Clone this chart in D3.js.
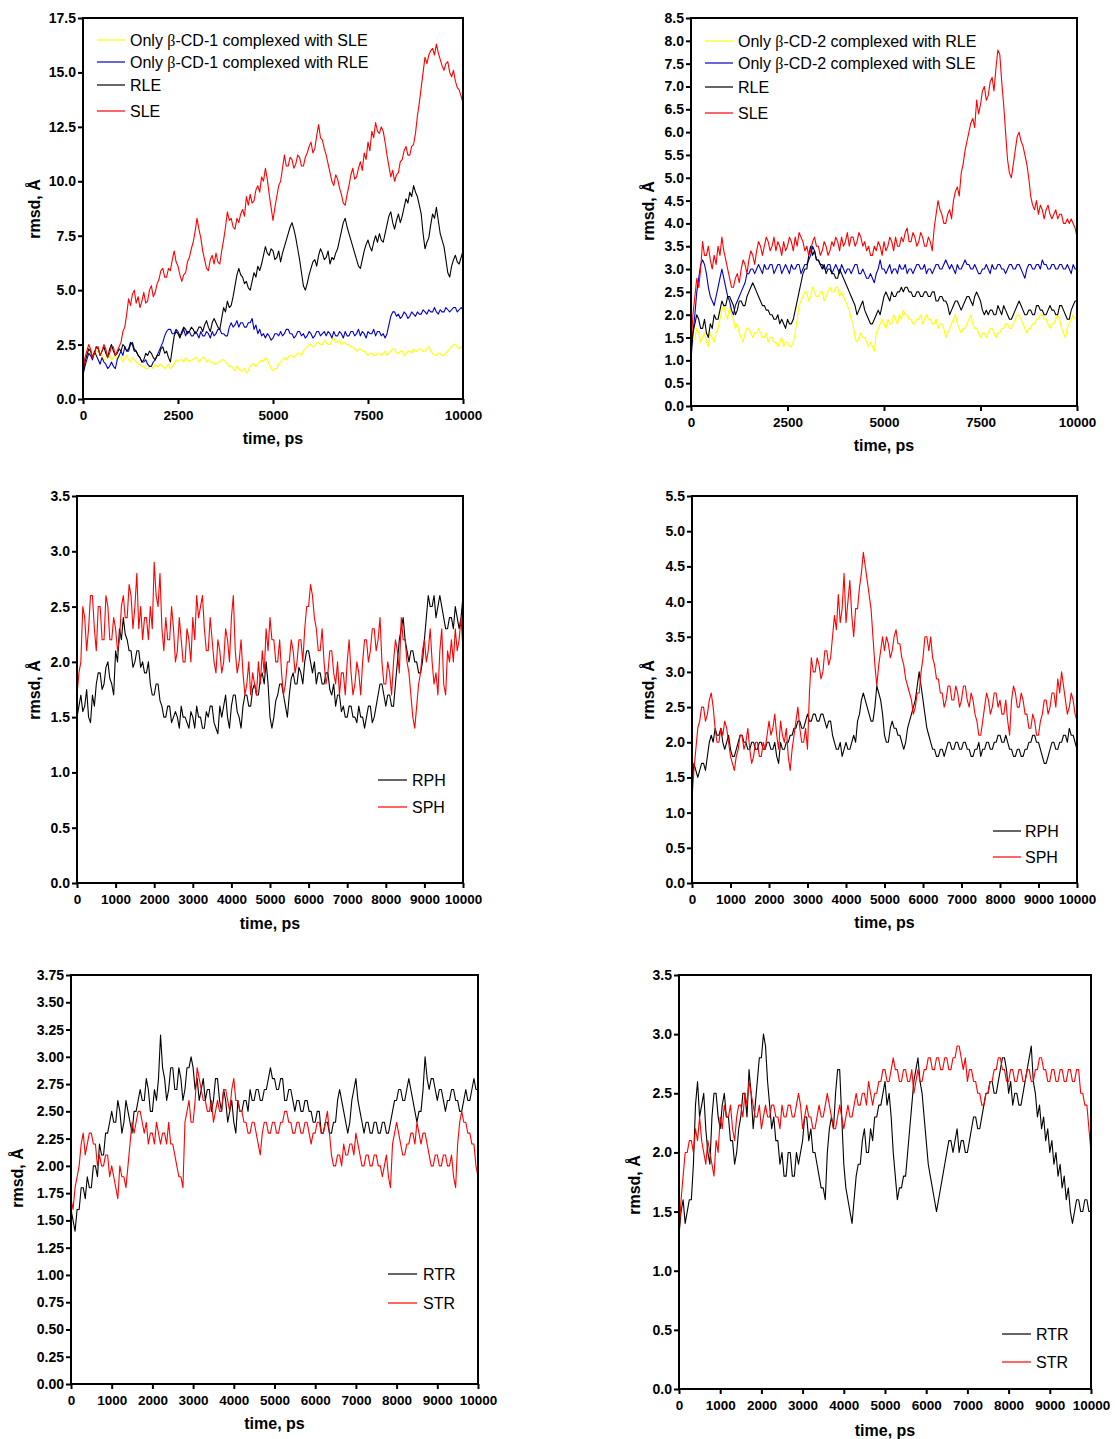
<!DOCTYPE html>
<html><head><meta charset="utf-8">
<script src="https://cdn.jsdelivr.net/npm/d3@7/dist/d3.min.js"></script>
<style>
body{margin:0;background:#fff}
svg{display:block}
text{font-family:Arial,"Liberation Sans",Helvetica,sans-serif;fill:#000}
</style>
</head><body>
<svg id="chart" width="1115" height="1439"></svg>
<script>
// ---- shared axis data (samples every 50 ps) ----
const timePs = d3.range(0, 10001, 50);
const xTicksCoarse = [0, 2500, 5000, 7500, 10000];
const xTicksFine = [0, 1000, 2000, 3000, 4000, 5000, 6000, 7000, 8000, 9000, 10000];

// ---- Panel 1 (β-CD-1, LE) ----
const p1_cd1_sle = [
1.4,1.8,2.0,2.2,2.1,1.9,2.0,2.2,2.2,2.0,2.0,1.8,1.9,2.1,2.0,1.8,1.9,2.0,1.8,2.0,
1.9,1.7,1.9,2.0,1.8,1.7,1.9,1.8,1.7,1.6,1.6,1.5,1.5,1.4,1.4,1.5,1.5,1.4,1.6,1.5,
1.5,1.6,1.5,1.4,1.5,1.6,1.4,1.5,1.6,1.8,1.7,1.8,1.8,1.7,1.9,1.8,1.7,1.8,1.8,1.9,
1.9,1.7,1.8,1.9,1.9,1.7,1.8,1.7,1.7,1.6,1.6,1.7,1.7,1.8,1.8,1.7,1.6,1.5,1.5,1.4,
1.3,1.5,1.4,1.3,1.3,1.4,1.2,1.3,1.5,1.6,1.6,1.5,1.6,1.7,1.8,1.7,1.9,1.8,1.6,1.4,
1.3,1.4,1.4,1.6,1.7,1.8,1.9,1.8,1.9,2.0,2.0,1.9,2.0,2.1,2.1,2.0,2.2,2.3,2.4,2.5,
2.5,2.4,2.4,2.6,2.6,2.5,2.5,2.7,2.6,2.5,2.5,2.7,2.8,2.6,2.6,2.7,2.5,2.6,2.6,2.5,
2.5,2.4,2.4,2.3,2.2,2.3,2.3,2.2,2.2,2.1,2.0,2.1,2.1,2.0,2.0,2.1,2.1,2.0,2.1,2.2,
2.0,2.1,2.2,2.3,2.3,2.1,2.1,2.2,2.2,2.0,2.1,2.2,2.2,2.1,2.3,2.2,2.2,2.3,2.3,2.2,
2.2,2.3,2.4,2.2,2.1,2.0,2.0,2.1,2.1,2.0,2.0,2.1,2.2,2.3,2.4,2.5,2.5,2.4,2.3,2.4,
2.3];
const p1_cd1_rle = [
1.1,1.5,1.8,2.1,2.0,1.8,2.2,2.0,1.8,1.6,1.9,1.7,1.6,1.4,1.5,1.7,1.5,1.4,1.8,2.0,
2.2,2.0,2.4,2.2,2.2,2.5,2.6,2.3,2.2,2.0,1.9,1.7,1.7,1.8,1.6,1.5,1.5,1.7,1.8,2.0,
2.2,2.4,2.6,2.9,3.1,3.2,3.2,3.0,3.0,3.2,3.1,2.9,3.0,3.2,2.9,3.1,3.1,2.9,2.9,3.1,
3.0,2.8,3.1,2.9,2.9,3.1,3.0,2.8,3.1,2.9,3.0,3.2,3.2,3.0,3.0,2.9,2.9,3.3,3.5,3.3,
3.4,3.6,3.3,3.5,3.5,3.3,3.3,3.5,3.5,3.7,3.2,3.4,3.0,3.2,2.9,3.0,2.8,3.0,2.9,2.7,
2.8,3.0,3.0,2.9,3.1,2.9,3.0,3.2,3.2,3.0,3.0,2.8,2.9,3.1,3.1,2.9,3.0,2.8,2.9,3.1,
3.0,2.8,2.9,3.1,3.1,2.9,3.0,3.1,2.9,3.1,3.0,2.8,3.1,2.9,2.9,3.1,3.0,2.8,3.1,2.9,
2.9,3.1,3.1,2.9,3.0,3.2,2.9,3.1,3.0,2.8,3.1,3.0,3.0,3.2,2.9,3.1,3.1,2.9,3.0,2.8,
3.0,3.4,3.8,4.0,4.0,3.8,3.9,3.7,3.8,4.0,3.9,3.7,3.8,4.0,3.9,3.8,4.0,3.9,3.9,4.1,
4.0,3.9,4.1,4.0,4.0,4.2,4.0,3.9,4.1,4.0,4.0,4.2,4.1,4.0,4.1,4.2,4.2,4.0,4.1,4.2,
4.1];
const p1_rle = [
1.2,1.7,2.0,2.3,2.2,1.9,2.1,2.4,2.3,2.0,2.2,2.4,2.1,1.9,2.3,2.5,2.2,2.0,2.1,2.3,
2.2,2.5,2.4,2.2,2.3,2.6,2.5,2.2,2.2,2.0,1.9,1.7,1.8,2.1,2.0,2.2,2.1,1.9,1.8,2.0,
2.0,2.3,2.4,2.1,2.2,1.9,1.7,2.3,2.9,3.1,3.0,2.8,3.1,3.3,3.2,3.0,3.1,3.3,3.2,3.0,
3.1,3.3,3.3,3.1,3.4,3.6,3.3,3.1,3.5,3.7,3.5,3.3,3.2,3.7,4.2,4.0,4.5,4.2,4.3,4.7,
5.2,5.7,6.0,5.7,5.6,5.3,5.4,5.1,5.0,5.4,5.8,5.6,6.1,5.9,6.2,6.6,7.0,6.7,6.6,6.9,
6.8,6.4,6.5,6.8,6.3,6.7,7.0,7.3,7.6,7.9,8.1,7.8,7.4,6.9,6.4,5.8,5.2,5.0,5.3,5.7,
6.0,6.3,6.4,6.1,6.6,6.9,6.7,6.4,6.5,6.8,6.2,6.5,6.4,6.7,6.9,7.3,7.7,8.1,8.3,7.9,
7.6,7.3,7.0,6.7,6.4,6.1,6.0,6.4,6.8,7.1,7.3,7.0,6.8,7.2,7.5,7.2,7.6,7.3,7.2,7.6,
8.0,8.4,8.6,8.1,7.8,8.2,8.5,8.1,8.4,8.8,9.2,9.0,9.5,9.3,9.8,9.5,9.3,8.9,8.5,7.6,
6.9,7.2,7.4,8.0,8.5,8.3,8.8,8.2,7.6,7.3,7.0,6.4,5.8,5.6,6.1,6.4,6.6,6.3,6.2,6.5,
6.8];
const p1_sle = [
1.3,1.9,2.2,2.5,2.3,1.9,2.1,2.4,2.4,2.0,2.2,2.5,2.3,1.9,2.1,2.4,2.4,2.0,2.2,2.4,
2.6,3.1,3.3,3.9,4.6,4.3,4.8,5.0,4.4,4.7,4.2,4.5,4.9,4.4,4.5,5.0,5.2,4.7,4.9,5.3,
5.5,5.9,6.0,5.6,5.6,6.0,5.9,6.4,6.8,6.3,6.1,5.7,5.4,5.7,5.8,6.3,6.5,6.9,7.2,7.7,
8.3,7.8,7.4,6.8,6.4,6.0,5.9,6.4,6.6,6.2,6.7,6.3,6.2,6.8,7.3,7.9,8.6,8.2,8.3,7.9,
7.8,8.3,8.1,8.5,8.7,8.4,9.3,8.9,9.4,9.0,9.1,9.6,9.8,9.5,10.2,10.0,10.6,10.1,9.4,8.8,
8.2,8.8,9.3,9.8,10.0,10.6,11.2,10.7,10.7,11.1,11.0,10.6,10.8,11.2,11.1,10.7,10.7,11.1,11.3,11.6,
11.8,11.3,11.5,12.1,12.6,12.0,11.9,11.5,11.2,10.8,10.4,10.0,9.8,10.3,10.1,9.7,9.4,9.0,8.9,9.4,
9.8,10.3,10.6,10.1,10.2,10.6,10.9,10.5,11.3,11.0,11.8,11.4,12.3,12.0,12.7,12.3,12.2,12.5,12.3,11.8,
11.2,10.7,10.2,10.5,10.0,10.3,10.4,10.9,11.0,11.4,11.6,11.2,11.2,11.6,11.7,12.2,13.0,13.6,14.3,15.0,
15.7,15.4,15.8,16.0,16.1,15.8,16.3,15.9,15.6,15.3,15.1,15.4,15.5,15.0,14.8,15.1,14.6,14.3,14.2,13.9,
13.6];

// ---- Panel 2 (β-CD-2, LE) ----
const p2_cd2_rle = [
1.2,1.4,1.5,1.7,1.6,1.4,1.5,1.6,1.4,1.3,1.6,1.5,1.4,1.6,1.7,1.9,2.1,2.2,2.0,1.9,
2.2,2.0,1.9,1.7,1.8,1.6,1.5,1.4,1.6,1.7,1.7,1.6,1.5,1.6,1.6,1.7,1.6,1.5,1.5,1.6,
1.4,1.5,1.5,1.4,1.4,1.3,1.4,1.5,1.3,1.4,1.4,1.3,1.3,1.4,1.6,1.9,2.2,2.3,2.4,2.5,
2.5,2.3,2.4,2.6,2.5,2.4,2.4,2.5,2.5,2.3,2.4,2.5,2.6,2.5,2.5,2.6,2.6,2.4,2.5,2.4,
2.3,2.2,2.1,1.9,1.8,1.5,1.4,1.5,1.6,1.5,1.5,1.4,1.3,1.4,1.3,1.2,1.6,1.7,1.8,1.9,
1.8,1.7,1.9,1.8,1.8,2.0,1.9,1.8,2.0,1.9,2.1,2.0,2.0,1.9,1.9,1.8,1.8,1.9,1.9,2.0,
1.8,1.9,2.0,1.9,1.9,1.8,1.8,1.9,1.7,1.8,1.8,1.7,1.5,1.6,1.7,1.8,1.9,2.0,1.8,1.7,
1.6,1.7,1.7,1.8,1.9,2.0,1.8,1.7,1.7,1.6,1.5,1.6,1.6,1.5,1.6,1.7,1.7,1.6,1.5,1.6,
1.6,1.7,1.7,1.8,1.8,1.7,1.7,1.8,1.9,2.0,2.0,1.9,1.8,1.7,1.6,1.7,1.7,1.8,1.8,1.9,
1.9,2.0,2.0,1.9,1.9,1.8,1.7,1.8,1.8,1.9,2.0,1.9,1.7,1.6,1.5,1.7,1.8,1.9,2.0,1.9,
2.0];
const p2_cd2_sle = [
1.0,1.6,2.0,2.5,2.8,3.1,3.2,3.1,2.9,2.6,2.4,2.3,2.2,2.4,2.6,2.8,3.0,2.8,2.6,2.4,
2.3,2.1,2.0,2.2,2.3,2.4,2.5,2.6,2.7,2.9,2.9,3.0,3.0,2.9,3.0,3.1,3.0,2.9,3.1,3.0,
3.0,3.1,3.1,2.9,3.0,3.1,3.1,2.9,3.0,3.1,3.0,2.9,3.1,3.0,3.0,3.1,3.1,2.9,3.0,3.1,
3.1,3.2,3.3,3.5,3.4,3.2,3.2,3.1,3.1,3.0,3.0,3.1,3.1,2.9,3.0,3.1,3.0,2.9,3.1,3.0,
2.9,3.0,3.0,2.9,3.0,3.1,3.1,2.9,2.9,3.0,2.9,2.8,2.8,2.9,2.8,2.7,2.9,3.0,3.2,3.0,
3.0,2.9,3.0,3.1,2.9,3.0,3.0,2.9,3.1,3.0,3.0,3.1,2.9,3.0,3.0,2.9,3.0,3.1,3.1,3.0,
3.0,3.1,2.9,3.0,3.0,2.9,3.0,3.1,3.1,3.0,3.0,3.1,3.2,3.1,3.0,3.1,3.0,2.9,3.1,3.0,
3.0,3.1,3.2,3.1,3.1,3.0,3.0,3.1,3.0,2.9,2.9,3.0,3.0,3.1,3.0,2.9,3.1,3.0,3.0,3.1,
3.1,3.0,3.0,2.9,3.0,3.1,3.1,3.0,3.0,3.1,3.1,3.0,2.9,2.8,3.0,3.1,3.1,3.0,3.0,3.1,
3.1,3.0,3.2,3.1,3.1,3.0,3.0,3.1,3.1,3.0,3.0,3.1,3.1,3.0,3.0,3.1,3.0,2.9,3.1,3.0,
3.0];
const p2_rle = [
1.2,1.6,1.8,2.0,1.9,1.7,1.7,1.9,1.6,1.5,1.8,1.7,2.0,1.9,1.9,2.1,2.3,2.2,2.2,2.4,
2.4,2.3,2.2,2.0,2.1,2.3,2.3,2.2,2.2,2.4,2.5,2.6,2.7,2.6,2.5,2.4,2.3,2.2,2.2,2.1,
2.1,2.0,2.0,1.9,1.9,2.0,1.8,1.9,1.8,1.7,1.9,1.8,1.8,1.9,2.1,2.3,2.5,2.7,2.9,3.0,
3.0,3.3,3.5,3.3,3.4,3.2,3.2,3.1,3.0,3.1,2.9,3.0,3.0,2.9,2.9,2.8,2.8,3.0,2.9,2.8,
2.7,2.6,2.5,2.4,2.3,2.2,2.0,2.1,2.2,2.3,2.1,2.0,1.9,1.8,1.8,1.9,2.0,2.1,2.0,2.2,
2.4,2.5,2.4,2.3,2.5,2.4,2.4,2.5,2.5,2.6,2.5,2.6,2.6,2.5,2.5,2.4,2.4,2.5,2.5,2.4,
2.4,2.5,2.5,2.4,2.4,2.5,2.5,2.3,2.3,2.4,2.4,2.3,2.3,2.2,2.0,2.1,2.2,2.3,2.3,2.2,
2.1,2.2,2.3,2.4,2.4,2.3,2.2,2.4,2.5,2.4,2.3,2.1,2.0,2.1,2.0,2.1,2.1,2.0,2.0,2.2,
2.1,2.0,2.2,2.1,2.0,1.9,1.9,2.0,2.1,2.2,2.3,2.2,2.1,2.0,2.0,2.1,2.1,2.0,2.0,2.2,
2.2,2.1,2.1,2.0,2.0,2.1,2.2,2.1,2.1,2.0,2.0,2.2,2.2,2.1,2.0,1.9,1.9,2.1,2.2,2.3,
2.3];
const p2_sle = [
1.3,2.0,2.4,2.8,2.6,3.0,3.6,3.3,3.3,3.5,3.2,3.0,3.3,3.1,3.5,3.3,3.7,3.4,3.2,3.0,
2.8,2.6,2.6,2.8,2.9,2.7,3.0,3.2,3.1,2.9,3.2,3.4,3.3,3.1,3.4,3.6,3.5,3.3,3.5,3.7,
3.6,3.4,3.5,3.7,3.4,3.6,3.5,3.3,3.6,3.4,3.5,3.7,3.6,3.4,3.7,3.5,3.8,3.7,3.6,3.4,
3.5,3.3,3.4,3.6,3.7,3.5,3.5,3.3,3.4,3.6,3.5,3.3,3.4,3.6,3.5,3.7,3.6,3.4,3.7,3.5,
3.6,3.8,3.5,3.7,3.7,3.5,3.6,3.8,3.7,3.5,3.6,3.4,3.5,3.3,3.3,3.5,3.4,3.6,3.5,3.3,
3.6,3.4,3.5,3.7,3.6,3.4,3.7,3.5,3.5,3.7,3.6,3.8,3.9,3.6,3.6,3.8,3.7,3.5,3.6,3.8,
3.7,3.5,3.5,3.7,3.6,3.4,3.9,4.2,4.5,4.3,4.2,4.0,4.0,4.2,4.3,4.1,4.5,4.7,4.8,4.6,
5.1,5.3,5.6,5.8,6.0,6.2,6.3,6.1,6.7,6.4,6.6,6.9,7.0,6.7,6.8,7.1,7.2,6.9,7.4,7.8,
7.7,7.1,6.6,6.0,5.4,5.1,5.0,5.3,5.6,5.9,6.0,5.8,5.7,5.5,5.3,5.0,4.6,4.4,4.3,4.5,
4.2,4.4,4.3,4.1,4.3,4.4,4.2,4.1,4.2,4.3,4.1,4.2,4.2,4.0,4.0,4.1,4.0,4.1,4.0,3.9,
3.7];

// ---- Panel 3 (PH, left) ----
const p3_rph = [
1.5,1.6,1.7,1.55,1.6,1.75,1.5,1.45,1.7,1.6,1.8,1.9,1.9,1.75,1.8,1.95,2.0,1.85,1.8,1.7,
2.1,2.0,2.3,2.2,2.4,2.25,2.2,2.1,2.1,1.95,2.0,2.1,2.1,1.95,2.0,1.9,1.9,2.0,1.8,1.7,
1.7,1.8,1.8,1.65,1.6,1.5,1.5,1.6,1.6,1.45,1.5,1.55,1.5,1.4,1.6,1.5,1.5,1.45,1.4,1.55,
1.5,1.4,1.6,1.5,1.5,1.4,1.4,1.55,1.5,1.6,1.6,1.45,1.4,1.35,1.6,1.5,1.6,1.7,1.5,1.4,
1.6,1.7,1.7,1.55,1.5,1.4,1.6,1.7,1.7,1.6,1.6,1.75,1.8,1.7,1.7,1.85,1.9,1.8,2.0,1.8,
1.5,1.4,1.5,1.65,1.7,1.8,1.8,1.7,1.6,1.5,1.7,1.85,1.9,1.8,1.8,1.95,1.9,1.8,2.0,2.1,
2.1,2.0,1.9,2.0,1.8,1.9,1.9,1.8,1.8,1.9,1.9,1.75,1.7,1.8,1.6,1.7,1.7,1.55,1.6,1.5,
1.5,1.6,1.6,1.5,1.5,1.45,1.6,1.5,1.5,1.4,1.5,1.6,1.6,1.45,1.5,1.6,1.7,1.8,1.8,1.7,
1.6,1.7,1.7,1.6,1.6,1.8,2.0,2.2,2.3,2.4,2.2,2.1,2.0,2.1,2.1,2.0,2.0,1.9,1.9,2.0,
2.2,2.4,2.6,2.5,2.5,2.6,2.4,2.5,2.6,2.5,2.4,2.3,2.3,2.4,2.4,2.3,2.5,2.4,2.3,2.4,
2.6];
const p3_sph = [
1.7,1.9,2.0,2.5,2.4,2.1,2.3,2.6,2.6,2.3,2.1,2.5,2.5,2.2,2.2,2.6,2.5,2.2,2.2,2.4,
2.3,2.1,2.2,2.5,2.6,2.4,2.4,2.7,2.6,2.3,2.5,2.8,2.3,2.5,2.2,2.4,2.4,2.2,2.5,2.3,
2.9,2.6,2.5,2.8,2.3,2.1,2.4,2.2,2.2,2.5,2.3,2.0,2.1,2.4,2.2,2.0,2.0,2.3,2.2,2.0,
2.4,2.2,2.6,2.4,2.5,2.6,2.3,2.1,2.1,2.4,2.2,2.0,1.9,2.2,2.1,1.9,2.0,2.3,2.2,2.0,
2.4,2.6,2.1,1.9,2.0,2.2,1.9,1.7,1.8,2.0,1.7,1.9,1.8,1.7,2.0,1.8,2.1,1.9,2.3,2.1,
2.4,2.2,2.2,2.0,2.0,2.2,1.9,1.7,1.8,2.0,2.0,2.2,2.1,1.9,2.0,2.2,2.2,2.0,2.3,2.5,
2.5,2.7,2.6,2.4,2.3,2.1,2.1,2.3,2.0,1.8,1.9,2.1,2.1,1.9,1.8,2.0,1.7,1.9,1.9,1.7,
2.0,2.2,1.9,1.7,1.8,2.0,1.9,1.7,2.0,2.2,2.2,2.0,2.1,2.3,2.3,2.1,2.2,2.4,2.0,1.8,
1.8,2.0,1.9,1.7,2.0,2.2,2.1,1.9,2.4,2.2,2.2,2.0,1.9,1.7,1.5,1.4,1.6,1.8,1.9,2.1,
2.2,2.0,2.1,2.3,2.0,1.8,1.9,1.7,2.1,2.3,1.8,1.7,2.1,2.0,2.2,2.0,2.3,2.1,2.2,2.4,
2.1];

// ---- Panel 4 (PH, right) ----
const p4_rph = [
1.4,1.7,1.6,1.5,1.6,1.7,1.7,1.6,1.8,2.0,2.1,2.0,2.2,2.1,2.1,2.2,2.0,1.9,2.0,2.1,
1.9,1.8,1.8,1.9,2.0,2.1,2.1,2.0,2.0,1.9,1.9,2.0,2.0,1.9,1.9,2.0,2.0,1.9,1.9,2.0,
2.0,1.9,1.9,2.0,1.8,1.7,2.0,1.9,1.9,2.0,2.0,2.1,2.1,2.2,2.2,2.3,2.3,2.2,2.2,2.3,
2.4,2.3,2.3,2.4,2.4,2.3,2.3,2.4,2.4,2.3,2.2,2.3,2.3,2.1,2.0,1.9,1.9,2.0,1.8,1.9,
2.0,1.9,1.9,2.0,2.1,2.0,2.3,2.4,2.6,2.7,2.6,2.5,2.4,2.3,2.3,2.5,2.8,2.7,2.6,2.4,
2.1,2.0,2.0,2.2,2.3,2.2,2.2,2.1,2.1,2.0,1.9,2.0,2.2,2.3,2.4,2.5,2.6,2.8,3.0,2.8,
2.6,2.4,2.2,2.1,2.0,1.9,1.9,1.8,1.8,1.9,1.9,1.8,1.9,2.0,2.0,1.9,1.9,2.0,2.0,1.9,
1.9,2.0,2.0,1.9,1.9,1.8,1.8,1.9,1.9,2.0,1.8,1.9,1.9,2.0,2.0,1.9,1.9,2.0,2.0,2.1,
2.1,2.0,2.0,2.1,2.0,1.9,1.9,1.8,1.8,1.9,1.9,1.8,1.8,1.9,1.9,2.0,2.0,2.1,2.1,2.0,
2.0,1.9,1.8,1.7,1.7,1.8,1.9,2.0,2.0,1.9,1.9,2.0,2.0,2.1,2.1,2.0,2.2,2.1,2.1,2.0,
1.9];
const p4_sph = [
1.2,1.6,1.9,2.2,2.3,2.5,2.5,2.3,2.4,2.6,2.7,2.5,2.2,2.0,2.0,2.2,2.1,2.3,2.2,2.0,
1.8,1.7,1.6,1.8,1.9,2.1,2.1,1.9,2.0,2.2,1.9,1.7,1.8,2.0,2.0,1.8,1.8,2.0,1.9,2.1,
2.3,2.1,2.2,2.4,2.1,1.9,2.3,2.1,2.0,2.2,1.8,1.6,1.9,2.1,2.3,2.5,2.2,2.0,2.0,2.2,
1.9,2.7,3.2,3.0,3.0,3.2,3.1,2.9,3.0,3.3,3.3,3.1,3.2,3.5,3.8,3.6,4.1,3.7,3.9,4.4,
3.7,4.0,4.3,3.8,3.5,3.9,3.9,4.2,4.4,4.7,4.5,4.3,4.1,3.9,3.5,3.1,2.8,3.1,3.3,3.5,
3.3,3.5,3.4,3.2,3.3,3.5,3.6,3.4,3.4,3.2,3.1,2.9,2.8,2.7,2.6,2.4,2.5,2.7,2.7,3.0,
3.2,3.5,3.5,3.3,3.5,3.2,3.1,2.9,2.9,2.7,2.7,2.5,2.6,2.8,2.8,2.6,2.6,2.8,2.7,2.5,
2.6,2.8,2.8,2.6,2.5,2.7,2.6,2.4,2.3,2.1,2.1,2.3,2.5,2.7,2.6,2.4,2.5,2.7,2.7,2.5,
2.6,2.4,2.4,2.6,2.3,2.1,2.6,2.8,2.7,2.5,2.5,2.7,2.6,2.4,2.4,2.2,2.2,2.4,2.3,2.1,
2.1,2.3,2.4,2.6,2.6,2.4,2.5,2.7,2.7,2.5,2.9,2.7,3.0,2.8,2.6,2.4,2.5,2.7,2.6,2.4,
2.3];

// ---- Panel 5 (TR, left) ----
const p5_rtr = [
1.6,1.5,1.4,1.6,1.6,1.8,1.8,1.7,1.9,1.8,1.8,2.0,2.0,1.9,2.2,2.1,2.1,2.3,2.3,2.4,
2.5,2.4,2.4,2.6,2.5,2.3,2.4,2.6,2.5,2.4,2.3,2.5,2.5,2.6,2.7,2.6,2.6,2.8,2.7,2.5,
2.5,2.7,2.6,2.8,3.2,2.9,2.8,2.6,2.7,2.9,2.9,2.7,2.7,2.9,2.8,2.6,2.7,2.9,2.9,3.0,
2.9,2.7,2.8,2.6,2.7,2.8,2.6,2.7,2.7,2.5,2.6,2.8,2.8,2.6,2.5,2.7,2.6,2.4,2.5,2.6,
2.4,2.3,2.6,2.5,2.5,2.6,2.6,2.5,2.7,2.6,2.6,2.7,2.7,2.6,2.6,2.7,2.7,2.8,2.9,2.8,
2.8,2.7,2.7,2.8,2.8,2.6,2.6,2.7,2.7,2.6,2.5,2.6,2.6,2.5,2.5,2.6,2.6,2.5,2.5,2.4,
2.4,2.5,2.5,2.3,2.3,2.4,2.4,2.3,2.3,2.4,2.4,2.6,2.7,2.6,2.5,2.4,2.3,2.4,2.6,2.7,
2.8,2.6,2.5,2.4,2.3,2.4,2.4,2.3,2.3,2.4,2.4,2.3,2.3,2.4,2.4,2.3,2.3,2.4,2.5,2.6,
2.6,2.7,2.7,2.6,2.6,2.7,2.8,2.7,2.6,2.5,2.4,2.5,2.5,2.7,3.0,2.8,2.7,2.8,2.8,2.7,
2.6,2.7,2.7,2.6,2.5,2.6,2.6,2.7,2.7,2.6,2.6,2.5,2.5,2.6,2.7,2.6,2.6,2.7,2.8,2.7,
2.7];
const p5_str = [
1.7,1.6,1.8,1.9,2.0,2.2,2.3,2.1,2.2,2.3,2.3,2.2,2.2,2.0,2.1,2.0,2.0,2.1,2.1,1.9,
2.0,1.9,1.8,1.7,2.0,1.9,1.9,1.8,2.0,2.2,2.4,2.3,2.4,2.5,2.5,2.4,2.3,2.4,2.2,2.3,
2.3,2.2,2.4,2.3,2.2,2.3,2.3,2.2,2.4,2.2,2.2,2.1,2.0,1.9,1.9,1.8,2.4,2.5,2.6,2.4,
2.4,2.6,2.9,2.8,2.7,2.6,2.6,2.5,2.5,2.6,2.4,2.5,2.6,2.5,2.5,2.7,2.7,2.6,2.5,2.7,
2.8,2.6,2.6,2.5,2.5,2.4,2.4,2.3,2.3,2.4,2.4,2.3,2.2,2.1,2.3,2.4,2.4,2.3,2.3,2.4,
2.4,2.3,2.3,2.4,2.4,2.5,2.5,2.4,2.4,2.3,2.3,2.4,2.4,2.3,2.3,2.4,2.4,2.3,2.2,2.3,
2.3,2.4,2.4,2.3,2.3,2.4,2.5,2.3,2.1,2.0,2.0,2.1,2.1,2.0,2.2,2.1,2.1,2.2,2.2,2.1,
2.3,2.2,2.1,2.0,2.0,2.1,2.1,2.0,2.0,2.1,2.1,2.0,2.0,1.9,2.0,2.1,1.9,1.8,2.2,2.3,
2.4,2.3,2.2,2.1,2.1,2.2,2.2,2.3,2.3,2.2,2.4,2.3,2.2,2.3,2.3,2.2,2.1,2.0,2.0,2.1,
2.1,2.0,2.0,2.1,2.1,2.0,2.0,2.1,1.9,1.8,2.2,2.4,2.5,2.4,2.4,2.3,2.3,2.2,2.2,2.0,
1.9];

// ---- Panel 6 (TR, right) ----
const p6_rtr = [
1.3,1.5,1.6,1.4,1.5,1.6,1.6,1.9,2.4,2.6,2.3,2.4,2.5,2.2,2.0,1.9,2.3,2.5,2.5,2.3,
2.2,2.4,2.5,2.3,2.3,2.1,2.1,1.9,2.0,2.2,2.3,2.5,2.5,2.3,2.7,2.5,2.2,2.4,2.6,2.8,
2.8,3.0,2.9,2.6,2.4,2.2,2.3,2.1,2.1,1.9,2.0,1.8,1.8,2.0,2.0,1.8,1.8,2.0,1.9,2.0,
2.1,2.3,2.3,2.1,2.2,2.0,2.0,1.9,1.8,1.7,1.7,1.6,2.0,2.2,2.3,2.2,2.5,2.7,2.7,2.3,
1.9,1.7,1.6,1.5,1.4,1.6,1.8,1.9,1.9,2.1,2.2,2.0,2.0,2.2,2.1,2.3,2.3,2.4,2.4,2.5,
2.6,2.4,2.5,2.3,2.0,1.8,1.6,1.7,1.7,1.8,1.8,2.0,2.2,2.4,2.6,2.7,2.8,2.6,2.5,2.3,
2.1,1.9,1.8,1.7,1.6,1.5,1.6,1.7,1.8,1.9,2.0,2.1,2.1,2.0,2.1,2.2,2.0,2.1,2.1,2.0,
2.0,2.1,2.2,2.3,2.3,2.2,2.2,2.3,2.4,2.5,2.5,2.6,2.6,2.5,2.5,2.6,2.7,2.8,2.8,2.7,
2.5,2.6,2.4,2.5,2.5,2.4,2.4,2.5,2.6,2.7,2.8,2.9,2.6,2.5,2.3,2.4,2.2,2.3,2.1,2.2,
2.0,2.1,1.9,2.0,1.8,1.9,1.7,1.8,1.6,1.7,1.5,1.4,1.5,1.6,1.6,1.5,1.5,1.6,1.6,1.5,
1.5];
const p6_str = [
1.3,1.6,1.8,2.0,2.0,2.1,2.1,2.0,2.2,2.1,2.3,2.1,2.0,1.9,2.1,2.0,1.9,1.8,2.1,2.0,
2.3,2.2,2.4,2.3,2.3,2.4,2.2,2.1,2.3,2.4,2.4,2.3,2.5,2.4,2.6,2.5,2.4,2.3,2.3,2.4,
2.2,2.3,2.4,2.3,2.3,2.4,2.4,2.3,2.3,2.2,2.4,2.3,2.3,2.4,2.4,2.3,2.3,2.4,2.5,2.4,
2.2,2.3,2.4,2.3,2.3,2.2,2.2,2.3,2.4,2.3,2.3,2.4,2.5,2.4,2.3,2.2,2.2,2.3,2.4,2.3,
2.2,2.3,2.4,2.3,2.3,2.4,2.5,2.4,2.4,2.5,2.5,2.4,2.6,2.5,2.4,2.5,2.5,2.6,2.6,2.7,
2.7,2.6,2.6,2.7,2.8,2.7,2.7,2.6,2.6,2.7,2.7,2.6,2.6,2.7,2.5,2.6,2.7,2.6,2.6,2.7,
2.7,2.8,2.8,2.7,2.7,2.8,2.8,2.7,2.7,2.8,2.8,2.7,2.7,2.8,2.8,2.9,2.9,2.8,2.7,2.8,
2.6,2.7,2.7,2.6,2.6,2.5,2.5,2.4,2.4,2.5,2.5,2.6,2.6,2.7,2.7,2.8,2.8,2.7,2.7,2.6,
2.6,2.7,2.7,2.6,2.6,2.7,2.7,2.6,2.6,2.7,2.7,2.6,2.6,2.7,2.7,2.8,2.8,2.7,2.7,2.6,
2.6,2.7,2.7,2.6,2.6,2.7,2.7,2.6,2.6,2.7,2.7,2.6,2.6,2.7,2.7,2.5,2.5,2.4,2.4,2.2,
2.0];

// ---- colours ----
const C_YELLOW = "#ffff00", C_BLUE = "#0000c8", C_BLACK = "#000000", C_RED = "#ff0000";

const panels = [
  { box:[83,18,463,399], yMax:17.5, yStep:2.5, yFmt:".1f", xTicks:xTicksCoarse, ylab:[34,209], xlabY:444,
    legend:{x0:97,x1:125,tx:130,ys:[40,62,85,111]},
    series:[
      {data:p1_cd1_sle,color:C_YELLOW,label:["Only ","β","-CD-1 complexed with SLE"]},
      {data:p1_cd1_rle,color:C_BLUE,label:["Only ","β","-CD-1 complexed with RLE"]},
      {data:p1_rle,color:C_BLACK,label:["RLE"]},
      {data:p1_sle,color:C_RED,label:["SLE"]}]},
  { box:[691,18,1077,406], yMax:8.5, yStep:0.5, yFmt:".1f", xTicks:xTicksCoarse, ylab:[648,211], xlabY:451,
    legend:{x0:705,x1:733,tx:738,ys:[41,63,87,113]},
    series:[
      {data:p2_cd2_rle,color:C_YELLOW,label:["Only ","β","-CD-2 complexed with RLE"]},
      {data:p2_cd2_sle,color:C_BLUE,label:["Only ","β","-CD-2 complexed with SLE"]},
      {data:p2_rle,color:C_BLACK,label:["RLE"]},
      {data:p2_sle,color:C_RED,label:["SLE"]}]},
  { box:[77,496,463,883], yMax:3.5, yStep:0.5, yFmt:".1f", xTicks:xTicksFine, ylab:[34,690], xlabY:929,
    legend:{x0:378,x1:407,tx:412,ys:[780,807]},
    series:[
      {data:p3_rph,color:C_BLACK,label:["RPH"]},
      {data:p3_sph,color:C_RED,label:["SPH"]}]},
  { box:[692,496,1077,883], yMax:5.5, yStep:0.5, yFmt:".1f", xTicks:xTicksFine, ylab:[648,690], xlabY:928,
    legend:{x0:993,x1:1021,tx:1025,ys:[831,857]},
    series:[
      {data:p4_rph,color:C_BLACK,label:["RPH"]},
      {data:p4_sph,color:C_RED,label:["SPH"]}]},
  { box:[71,975,478,1384], yMax:3.75, yStep:0.25, yFmt:".2f", xTicks:xTicksFine, ylab:[17,1178], xlabY:1429,
    legend:{x0:388,x1:417,tx:423,ys:[1274,1303]},
    series:[
      {data:p5_rtr,color:C_BLACK,label:["RTR"]},
      {data:p5_str,color:C_RED,label:["STR"]}]},
  { box:[679,975,1091,1389], yMax:3.5, yStep:0.5, yFmt:".1f", xTicks:xTicksFine, ylab:[634,1185], xlabY:1436,
    legend:{x0:1002,x1:1031,tx:1036,ys:[1334,1362]},
    series:[
      {data:p6_rtr,color:C_BLACK,label:["RTR"]},
      {data:p6_str,color:C_RED,label:["STR"]}]}
];

const svg = d3.select("#chart");

panels.forEach(p => {
  const [x0,y0,x1,y1] = p.box;
  const x = d3.scaleLinear().domain([0,10000]).range([x0,x1]);
  const y = d3.scaleLinear().domain([0,p.yMax]).range([y1,y0]);
  const g = svg.append("g");

  // data lines
  const line = d3.line()
    .defined((d,i) => i < timePs.length && d != null)
    .x((d,i)=>x(timePs[i])).y(d=>y(d));
  p.series.forEach(s => {
    g.append("path").datum(s.data).attr("d",line)
      .attr("fill","none").attr("stroke",s.color).attr("stroke-width",1.1)
      .attr("stroke-linejoin","round");
  });

  // y axis
  const yTicks = d3.range(0, p.yMax + p.yStep/2, p.yStep);
  const ya = g.append("g").attr("transform",`translate(${x0},0)`)
    .call(d3.axisLeft(y).tickValues(yTicks).tickFormat(d3.format(p.yFmt)).tickSize(5).tickPadding(2).tickSizeOuter(0));
  ya.select(".domain").remove();
  ya.selectAll("line").attr("stroke","#000").attr("stroke-width",2);
  ya.selectAll("text").attr("font-size",14).attr("font-weight","bold").attr("font-family","Arial, 'Liberation Sans', sans-serif");

  // x axis
  const xa = g.append("g").attr("transform",`translate(0,${y1})`)
    .call(d3.axisBottom(x).tickValues(p.xTicks).tickFormat(d3.format("d")).tickSize(5).tickPadding(6).tickSizeOuter(0));
  xa.select(".domain").remove();
  xa.selectAll("line").attr("stroke","#000").attr("stroke-width",2);
  xa.selectAll("text").attr("font-size",13.5).attr("font-weight","bold").attr("font-family","Arial, 'Liberation Sans', sans-serif");

  // frame
  g.append("rect").attr("x",x0).attr("y",y0).attr("width",x1-x0).attr("height",y1-y0)
    .attr("fill","none").attr("stroke","#000").attr("stroke-width",2);

  // axis titles
  g.append("text").attr("x",(x0+x1)/2).attr("y",p.xlabY).attr("text-anchor","middle")
    .attr("font-size",16).attr("font-weight","bold").text("time, ps");
  g.append("text").attr("transform",`translate(${p.ylab[0]},${p.ylab[1]}) rotate(-90)`)
    .attr("text-anchor","middle").attr("dy","0.35em")
    .attr("font-size",16).attr("font-weight","bold").text("rmsd, Å");

  // legend
  p.series.forEach((s,i) => {
    const ly = p.legend.ys[i];
    g.append("line").attr("x1",p.legend.x0).attr("x2",p.legend.x1).attr("y1",ly).attr("y2",ly)
      .attr("stroke",s.color).attr("stroke-width",1.2);
    const t = g.append("text").attr("x",p.legend.tx).attr("y",ly).attr("dy","0.36em").attr("font-size",16);
    s.label.forEach(part => {
      const ts = t.append("tspan").text(part);
      if (part === "β") ts.attr("font-family","'Liberation Serif','Times New Roman',serif");
    });
  });
});
</script>
</body></html>
